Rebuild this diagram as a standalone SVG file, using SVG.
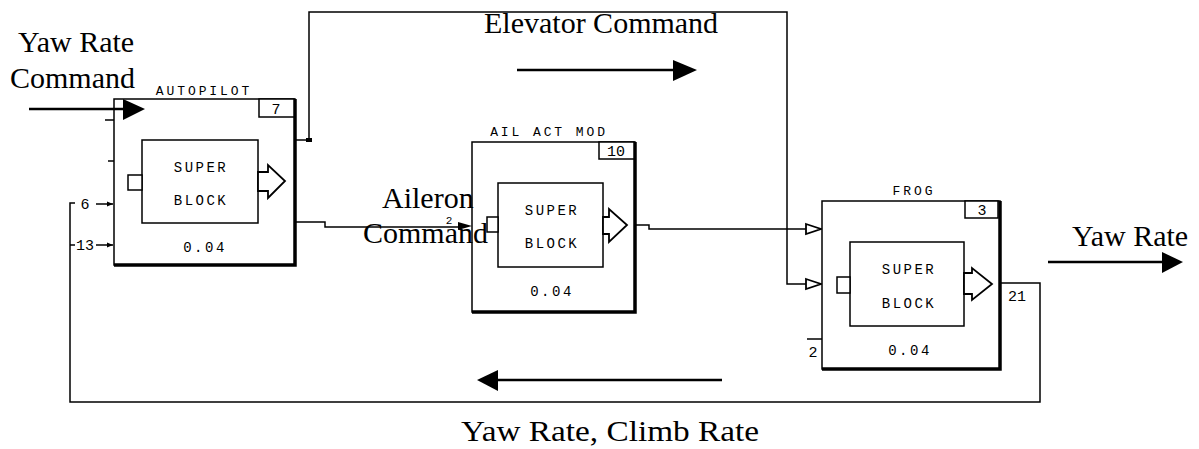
<svg xmlns="http://www.w3.org/2000/svg" width="1199" height="449" viewBox="0 0 1199 449">
<style>
.bg{fill:#fff}
.box{fill:#fff;stroke:#000;stroke-width:1.5}
.shadow{stroke:#000;stroke-width:3.5;fill:none}
.inner{fill:#fff;stroke:#000;stroke-width:1.5}
.ln{fill:none;stroke:#000;stroke-width:1.5}
.thick{fill:none;stroke:#000;stroke-width:2.5}
.hollow{fill:#fff;stroke:#000;stroke-width:1.8;stroke-linejoin:miter}
.mono{font-family:"Liberation Mono","DejaVu Sans Mono",monospace;font-size:14px;letter-spacing:2.5px;fill:#000}
.title{font-family:"Liberation Mono","DejaVu Sans Mono",monospace;font-size:13px;letter-spacing:2.9px;fill:#000}
.num{font-family:"Liberation Mono","DejaVu Sans Mono",monospace;font-size:15px;fill:#000}
.serif{font-family:"Liberation Serif","Times New Roman",serif;font-size:30px;fill:#000}
</style>
<defs>
<marker id="fa" viewBox="0 0 10 10" refX="10" refY="5" markerWidth="6" markerHeight="6" markerUnits="userSpaceOnUse" orient="auto"><path d="M0,1 L10,5 L0,9 z" fill="#000"/></marker>
</defs>
<rect class="bg" x="0" y="0" width="1199" height="449"/>

<g id="connectors">
  <!-- elevator command -->
  <polyline class="ln" points="295,140 309,140 309,12 787,12 787,284 806,284"/>
  <rect x="306" y="138" width="6" height="4" fill="#000"/>
  <polygon class="hollow" points="806,279 821,284 806,289"/>
  <!-- aileron command -->
  <polyline class="ln" points="295,222 325,222 325,227 458,227"/>
  <polygon points="458,222 472,226 458,230" fill="#000"/>
  <!-- AIL ACT MOD to FROG -->
  <polyline class="ln" points="635,225 649,225 649,229 806,229"/>
  <polygon class="hollow" points="806,224 821,229 806,234"/>
  <!-- FROG output / feedback -->
  <polyline class="ln" points="1000,283 1040,283 1040,402 70,402 70,203 75,203"/>
  <line class="ln" x1="70" y1="245" x2="75" y2="245"/>
  <line class="ln" x1="96" y1="204" x2="113" y2="204" marker-end="url(#fa)"/>
  <line class="ln" x1="96" y1="245" x2="113" y2="245" marker-end="url(#fa)"/>
  <text class="num" x="85" y="209" text-anchor="middle">6</text>
  <text class="num" x="85" y="250" text-anchor="middle">13</text>
  <!-- FROG port 2 stub -->
  <line class="ln" x1="807" y1="339" x2="822" y2="339"/>
  <text class="num" x="813" y="357" text-anchor="middle">2</text>
  <text class="num" x="1017" y="301" text-anchor="middle">21</text>
  <!-- autopilot left stubs -->
  <line class="ln" x1="105" y1="120" x2="114" y2="120"/>
  <line class="ln" x1="108" y1="161" x2="114" y2="161"/>
</g>

<g id="autopilot">
  <text class="title" x="204" y="95" text-anchor="middle">AUTOPILOT</text>
  <rect class="box" x="114" y="99" width="181" height="166"/>
  <polyline class="shadow" points="295,99 295,265 114,265"/>
  <rect class="box" x="259" y="99" width="35" height="18"/>
  <text class="num" x="276" y="114" text-anchor="middle">7</text>
  <rect class="inner" x="142" y="140" width="116" height="83"/>
  <rect class="inner" x="128" y="175" width="14" height="15"/>
  <polygon class="hollow" points="258,172 268,172 268,165 285,181 268,198 268,191 258,191"/>
  <text class="mono" x="201" y="172" text-anchor="middle">SUPER</text>
  <text class="mono" x="201" y="205" text-anchor="middle">BLOCK</text>
  <text class="mono" x="205" y="252" text-anchor="middle">0.04</text>
</g>

<g id="ail-act-mod">
  <text class="title" x="549" y="136" text-anchor="middle">AIL ACT MOD</text>
  <rect class="box" x="472" y="142" width="163" height="170"/>
  <polyline class="shadow" points="635,142 635,312 472,312"/>
  <rect class="box" x="599" y="142" width="35" height="17"/>
  <text class="num" x="616" y="156" text-anchor="middle">10</text>
  <rect class="inner" x="498" y="183" width="105" height="84"/>
  <rect class="inner" x="487" y="217" width="11" height="15"/>
  <polygon class="hollow" points="603,217 609,217 609,209 627,225 609,242 609,234 603,234"/>
  <text class="mono" x="552" y="215" text-anchor="middle">SUPER</text>
  <text class="mono" x="552" y="248" text-anchor="middle">BLOCK</text>
  <text class="mono" x="552" y="296" text-anchor="middle">0.04</text>
</g>

<g id="frog">
  <text class="title" x="914" y="195" text-anchor="middle">FROG</text>
  <rect class="box" x="822" y="201" width="178" height="168"/>
  <polyline class="shadow" points="1000,201 1000,369 822,369"/>
  <rect class="box" x="965" y="201" width="33" height="17"/>
  <text class="num" x="982" y="215" text-anchor="middle">3</text>
  <rect class="inner" x="850" y="242" width="114" height="84"/>
  <rect class="inner" x="837" y="277" width="13" height="16"/>
  <polygon class="hollow" points="964,273 972,273 972,268 992,284 972,300 972,294 964,294"/>
  <text class="mono" x="909" y="274" text-anchor="middle">SUPER</text>
  <text class="mono" x="909" y="308" text-anchor="middle">BLOCK</text>
  <text class="mono" x="910" y="355" text-anchor="middle">0.04</text>
</g>

<g id="label-arrows">
  <line class="thick" x1="29" y1="109" x2="124" y2="109"/>
  <polygon points="123,99 145,109 123,120" fill="#000"/>
  <line class="thick" x1="517" y1="70" x2="674" y2="70"/>
  <polygon points="673,60 697,70 673,81" fill="#000"/>
  <line class="thick" x1="1048" y1="262" x2="1163" y2="262"/>
  <polygon points="1162,252 1183,262 1162,273" fill="#000"/>
  <line class="thick" x1="722" y1="380" x2="497" y2="380"/>
  <polygon points="498,370 477,380 498,391" fill="#000"/>
</g>

<g id="labels">
  <text class="serif" x="18" y="52">Yaw Rate</text>
  <text class="serif" x="10" y="88">Command</text>
  <text class="serif" x="484" y="33">Elevator Command</text>
  <text class="serif" x="382" y="208">Aileron</text>
  <text class="serif" x="363" y="243">Command</text>
  <text class="num" x="449" y="224" text-anchor="middle" style="font-size:11px">2</text>
  <text class="serif" x="1072" y="246">Yaw Rate</text>
  <text class="serif" x="610" y="441" text-anchor="middle" textLength="298" lengthAdjust="spacingAndGlyphs">Yaw Rate, Climb Rate</text>
</g>
</svg>
